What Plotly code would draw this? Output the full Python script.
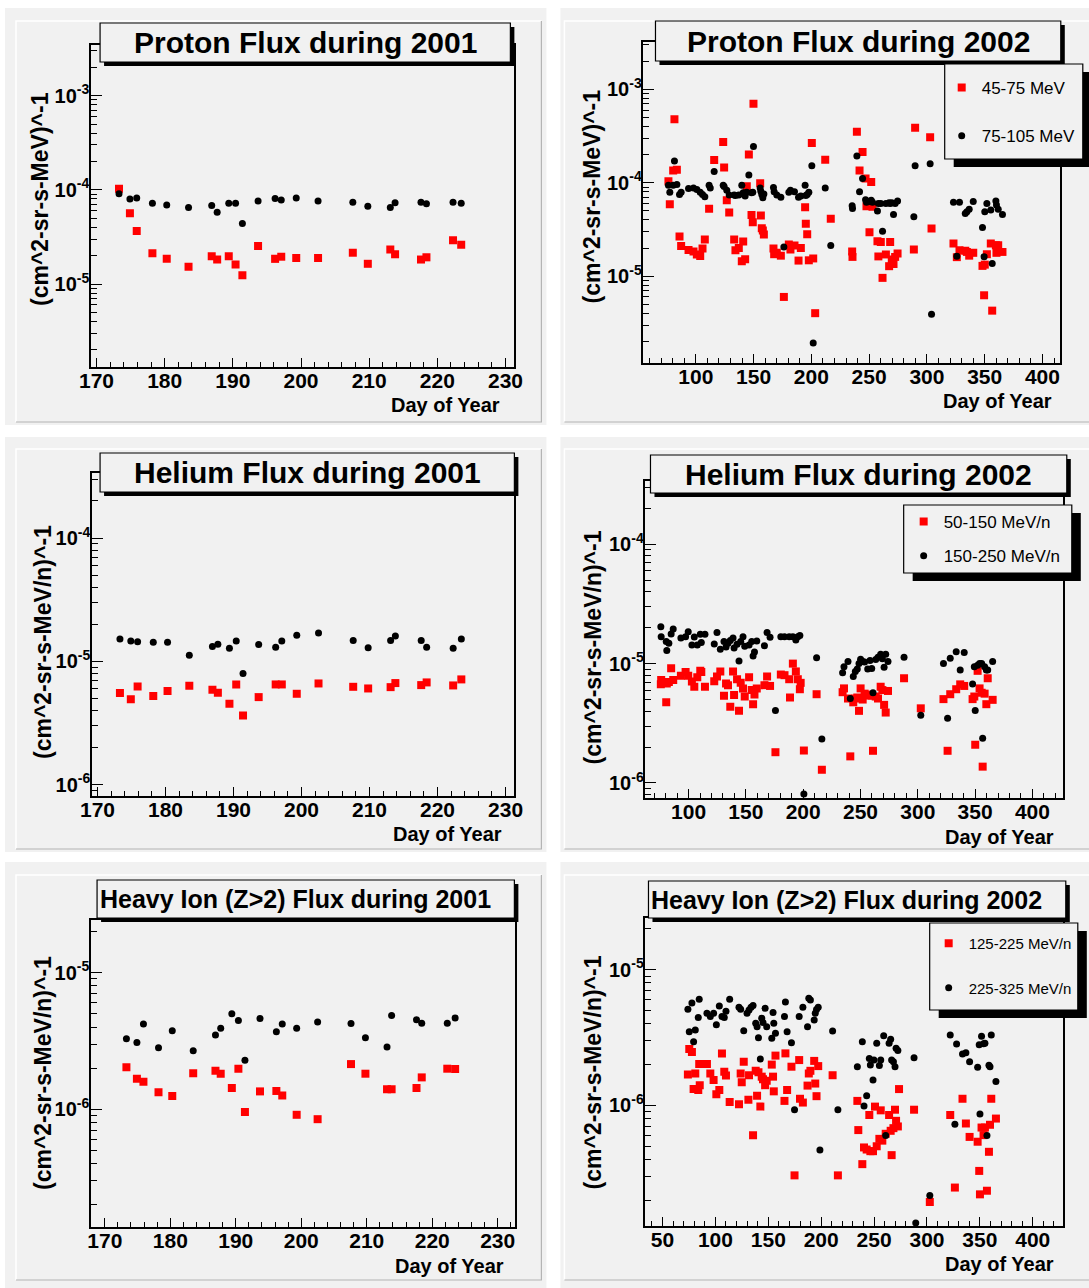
import plotly.graph_objects as go

W, H = 1089, 1288

# ---------------- DATA ----------------
DAYS_2001 = [173.3, 174.9, 175.9, 178.2, 180.3, 183.5, 186.9, 187.7, 189.4, 190.4, 191.4, 193.7,
             196.2, 197.1, 199.3, 202.5, 207.6, 209.8, 213.1, 213.8, 217.6, 218.4, 222.3, 223.5]

PROTON_LOW_2001 = [1.03e-4, 5.65e-5, 3.66e-5, 2.12e-5, 1.85e-5, 1.53e-5, 1.97e-5, 1.82e-5, 1.97e-5, 1.61e-5,
                   1.24e-5, 2.54e-5, 1.85e-5, 1.95e-5, 1.89e-5, 1.89e-5, 2.15e-5, 1.64e-5, 2.32e-5, 2.07e-5,
                   1.82e-5, 1.92e-5, 2.92e-5, 2.62e-5]
PROTON_HIGH_2001 = [9.1e-5, 8.0e-5, 8.2e-5, 7.2e-5, 6.9e-5, 6.5e-5, 6.8e-5, 5.8e-5, 7.2e-5, 7.2e-5,
                    4.4e-5, 7.6e-5, 8.1e-5, 7.8e-5, 8.2e-5, 7.6e-5, 7.4e-5, 6.7e-5, 6.5e-5, 7.3e-5,
                    7.4e-5, 7.1e-5, 7.4e-5, 7.2e-5]

HELIUM_LOW_2001 = [5.53e-6, 4.94e-6, 6.26e-6, 5.23e-6, 5.74e-6, 6.34e-6, 5.89e-6, 5.56e-6, 4.53e-6, 6.50e-6,
                   3.64e-6, 5.13e-6, 6.50e-6, 6.50e-6, 5.46e-6, 6.62e-6, 6.22e-6, 6.03e-6, 6.18e-6, 6.67e-6,
                   6.42e-6, 6.75e-6, 6.38e-6, 7.14e-6]
HELIUM_HIGH_2001 = [1.52e-5, 1.46e-5, 1.44e-5, 1.43e-5, 1.43e-5, 1.12e-5, 1.32e-5, 1.38e-5, 1.28e-5, 1.46e-5,
                    7.98e-6, 1.37e-5, 1.30e-5, 1.46e-5, 1.63e-5, 1.70e-5, 1.48e-5, 1.29e-5, 1.48e-5, 1.61e-5,
                    1.48e-5, 1.30e-5, 1.28e-5, 1.52e-5]

HEAVY_LOW_2001 = [2.03e-6, 1.67e-6, 1.59e-6, 1.33e-6, 1.25e-6, 1.83e-6, 1.91e-6, 1.82e-6, 1.43e-6, 1.98e-6,
                  9.55e-7, 1.35e-6, 1.36e-6, 1.26e-6, 9.1e-7, 8.45e-7, 2.14e-6, 1.82e-6, 1.40e-6, 1.40e-6,
                  1.43e-6, 1.71e-6, 1.98e-6, 1.97e-6]
HEAVY_HIGH_2001 = [3.28e-6, 3.08e-6, 4.20e-6, 2.82e-6, 3.76e-6, 2.68e-6, 3.49e-6, 3.91e-6, 5.00e-6, 4.47e-6,
                   2.28e-6, 4.61e-6, 3.69e-6, 4.20e-6, 3.91e-6, 4.35e-6, 4.25e-6, 3.34e-6, 2.86e-6, 4.86e-6,
                   4.52e-6, 4.27e-6, 4.27e-6, 4.65e-6]

PROTON_DAYS_2002 = [76.3, 77.5, 80.4, 81.5, 83.6, 85.9, 87.3, 93.7, 98.0, 100.9, 103.8, 105.8, 107.8, 111.5,
                    112.5, 115.9, 123.7, 124.5, 126.8, 128.9, 133.2, 134.3, 137.2, 139.8, 141.0, 142.7, 144.1,
                    145.9, 148.2, 149.3, 149.9, 155.7, 156.3, 157.1, 158.0, 158.9, 167.2, 167.8, 170.1, 173.6,
                    176.2, 180.5, 181.9, 185.4, 188.9, 190.9, 194.6, 195.2, 196.4, 197.8, 200.4, 201.6, 203.3,
                    212.0, 216.8, 235.3, 235.6, 239.4, 241.7, 244.3, 246.9, 247.7, 250.3, 251.8, 252.9, 257.2,
                    258.0, 260.1, 261.6, 264.5, 267.3, 268.2, 269.6, 271.1, 272.5, 274.6, 288.7, 289.8, 302.8,
                    304.0, 323.0, 325.9, 328.2, 333.2, 334.6, 336.6, 340.1, 348.1, 349.5, 350.1, 351.9, 355.3,
                    356.5, 359.7, 360.2, 361.7, 365.4]
PROTON_LOW_2002 = [1.04e-4, 5.9e-5, 1.35e-4, 4.8e-4, 1.38e-4, 2.66e-5, 2.11e-5, 1.91e-5, 1.84e-5, 1.71e-5,
                   1.65e-5, 1.98e-5, 2.47e-5, 5.26e-5, None, 1.75e-4, 2.73e-4, 1.46e-4, 6.52e-5, 4.8e-5,
                   2.47e-5, 1.9e-5, 2.01e-5, 1.45e-5, 2.35e-5, 1.52e-5, 9.2e-5, 2.01e-4, 4.51e-5, 3.79e-5,
                   7.0e-4, 9.9e-5, 4.47e-5, 3.27e-5, 3.08e-5, 2.79e-5, 1.98e-5, 1.72e-5, 1.78e-5, 1.66e-5,
                   6.0e-6, 2.18e-5, 1.93e-5, 2.13e-5, 1.47e-5, 2.01e-5, 5.48e-5, 3.64e-5, 2.82e-5, 1.48e-5,
                   2.66e-4, 1.55e-5, 4.02e-6, 1.76e-4, 4.11e-5, 1.84e-5, 1.61e-5, 3.51e-4, 1.35e-4, 2.13e-4,
                   1.11e-4, 5.62e-5, 2.96e-5, 1.02e-4, 5.53e-5, 2.37e-5, 1.63e-5, 2.33e-5, 9.6e-6, 1.71e-5,
                   1.28e-5, 2.33e-5, 1.51e-5, 1.35e-5, 1.61e-5, 1.75e-5, 1.93e-5, 3.88e-4, 3.08e-4, 3.24e-5,
                   2.24e-5, 1.6e-5, 1.9e-5, 1.87e-5, 1.82e-5, 1.66e-5, 1.78e-5, 1.29e-5, 6.25e-6, 1.33e-5,
                   1.72e-5, 2.24e-5, 4.28e-6, 2.15e-5, 1.78e-5, 2.15e-5, 1.82e-5]
PROTON_HIGH_2002 = [9.4e-5, 7.9e-5, 9.4e-5, 1.71e-4, 9.6e-5, 7.5e-5, 7.9e-5, 8.7e-5, 8.8e-5, 8.5e-5,
                    7.9e-5, 7.5e-5, 7.1e-5, 9.4e-5, 8.8e-5, 1.32e-4, 9.4e-5, 9.1e-5, 8.3e-5, 7.4e-5,
                    7.4e-5, 7.3e-5, 7.4e-5, 9.4e-5, 7.8e-5, 7.2e-5, 7.9e-5, 1.21e-4, 7.8e-5, 7.9e-5,
                    2.45e-4, 8.8e-5, 8.1e-5, 7.5e-5, 6.9e-5, 7.6e-5, 8.9e-5, 8.0e-5, 7.4e-5, 7.0e-5,
                    2.06e-5, 7.9e-5, 8.3e-5, 8.0e-5, 7.0e-5, 7.2e-5, 9.4e-5, 7.3e-5, 7.5e-5, 7.9e-5,
                    1.52e-4, 1.93e-6, None, 8.8e-5, 2.13e-5, 5.68e-5, 5.3e-5, 1.94e-4, 8.0e-5, 1.11e-4,
                    6.6e-5, 6.2e-5, 6.3e-5, 6.5e-5, 6.2e-5, 5.0e-5, 6.0e-5, 6.0e-5, 3.03e-5, 6.0e-5,
                    6.1e-5, 6.0e-5, 6.1e-5, 4.58e-5, 6.0e-5, 6.4e-5, 4.33e-5, 1.52e-4, 1.6e-4, 3.92e-6,
                    6.2e-5, 1.64e-5, 6.2e-5, 4.7e-5, 4.9e-5, 5.2e-5, 6.3e-5, 3.32e-5, 1.62e-5, 4.9e-5,
                    6.0e-5, 5.1e-5, 1.37e-5, 6.4e-5, 5.8e-5, 5.2e-5, 4.58e-5]

HELIUM_DAYS_2002 = [75.8, 76.1, 80.5, 81.0, 82.8, 84.8, 86.6, 93.3, 97.4, 99.7, 102.9, 105.0, 107.6, 110.2,
                    111.1, 114.3, 122.4, 124.8, 127.7, 130.9, 132.7, 134.4, 136.4, 138.8, 139.7, 142.3, 144.0,
                    145.5, 147.5, 149.0, 152.8, 155.1, 156.3, 157.5, 159.5, 166.2, 168.5, 171.1, 175.8, 180.5,
                    183.7, 187.8, 188.5, 191.0, 193.6, 195.3, 197.1, 197.8, 200.6, 211.7, 216.3, 234.4, 235.6,
                    239.1, 241.1, 243.7, 245.5, 247.2, 248.7, 250.1, 251.9, 253.6, 256.3, 258.3, 259.8, 260.9,
                    263.3, 265.3, 267.6, 269.1, 270.6, 272.0, 274.0, 288.0, 302.6, 322.4, 326.0, 328.3, 333.5,
                    337.0, 340.5, 347.8, 349.3, 350.1, 352.2, 353.9, 355.7, 356.6, 358.3, 359.8, 361.0, 365.3]
HELIUM_LOW_2002 = [6.71e-6, 7.3e-6, 4.74e-6, 6.8e-6, 7.0e-6, 9.14e-6, 7.3e-6, 7.9e-6, 8.5e-6, 7.9e-6,
                   7.07e-6, 6.4e-6, 7.7e-6, 8.7e-6, 8.5e-6, 6.4e-6, 7.1e-6, 7.8e-6, 8.6e-6, 5.37e-6,
                   6.8e-6, 6.6e-6, 4.36e-6, 8.6e-6, 5.45e-6, 7.4e-6, 4.02e-6, 6.9e-6, 6.2e-6, 5.3e-6,
                   7.7e-6, 6.0e-6, 4.57e-6, 5.5e-6, 6.2e-6, 6.6e-6, 7.8e-6, 6.5e-6, 1.81e-6, 8.1e-6,
                   8.0e-6, 7.4e-6, 5.2e-6, 1.0e-5, 8.6e-6, 7.4e-6, 6.1e-6, 6.9e-6, 1.87e-6, 5.54e-6,
                   1.29e-6, 5.76e-6, 6.2e-6, 5.1e-6, 1.67e-6, 4.74e-6, 5.1e-6, 5.2e-6, 4.02e-6, 6.2e-6,
                   5.0e-6, 5.6e-6, 5.5e-6, 5.4e-6, 5.4e-6, 1.86e-6, 5.3e-6, 5.1e-6, 6.4e-6, 6.0e-6,
                   4.51e-6, 3.89e-6, 5.9e-6, 7.54e-6, 4.22e-6, 5.04e-6, 1.86e-6, 5.54e-6, 6.1e-6, 6.7e-6,
                   6.5e-6, 5.04e-6, 5.3e-6, 2.09e-6, 8.7e-6, 6.2e-6, 5.7e-6, 1.37e-6, 5.6e-6, 4.57e-6,
                   7.54e-6, 4.97e-6]
HELIUM_HIGH_2002 = [2.04e-5, 1.68e-5, 1.53e-5, 1.29e-5, 1.48e-5, 1.77e-5, 1.95e-5, 1.64e-5, 1.68e-5, 1.85e-5,
                    1.43e-5, 1.67e-5, 1.43e-5, 1.76e-5, 1.5e-5, 1.76e-5, 1.46e-5, 1.82e-5, 1.32e-5, 1.53e-5,
                    1.38e-5, 1.48e-5, 1.56e-5, 1.64e-5, 1.35e-5, 1.45e-5, 1.05e-5, 1.53e-5, 1.68e-5, 1.4e-5,
                    1.43e-5, 1.53e-5, 1.16e-5, 1.25e-5, 1.55e-5, 1.41e-5, 1.82e-5, 1.66e-5, 4.05e-6, 1.68e-5,
                    1.68e-5, 1.68e-5, None, 1.68e-5, 1.58e-5, 1.68e-5, 1.72e-5, None, 8.1e-7, 1.12e-5,
                    2.34e-6, 8.4e-6, 9.4e-6, 1.04e-5, 5.1e-6, 7.8e-6, 8.6e-6, 9.0e-6, 1.0e-5, 1.09e-5,
                    1.04e-5, 1.03e-5, 9.0e-6, 1.06e-5, 9.1e-6, 5.7e-6, 1.08e-5, 1.13e-5, 1.2e-5, 1.1e-5,
                    9.3e-6, 1.2e-5, 1.04e-5, 1.13e-5, 3.7e-6, 1.0e-5, 3.49e-6, 1.11e-5, 1.26e-5, 8.85e-6,
                    1.24e-5, 6.76e-6, 9.4e-6, 4.05e-6, 9.7e-6, 1.0e-5, 1.0e-5, 2.37e-6, 9.4e-6, 8.85e-6,
                    8.85e-6, 1.04e-5]

HEAVY_DAYS_2002 = [74.0, 75.3, 77.8, 79.4, 81.0, 83.8, 84.7, 85.2, 92.0, 95.2, 98.3, 100.9, 103.7, 106.2,
                   108.4, 110.0, 113.5, 122.3, 123.9, 124.9, 126.8, 129.9, 131.2, 131.8, 133.7, 135.6, 138.1,
                   139.4, 140.7, 142.5, 143.8, 145.0, 147.0, 148.5, 153.3, 154.5, 155.2, 156.8, 165.3, 166.2,
                   167.8, 171.9, 174.8, 179.2, 180.0, 182.7, 187.1, 188.3, 189.8, 193.4, 194.4, 195.6, 197.2,
                   198.8, 210.8, 215.8, 234.2, 235.1, 238.9, 240.5, 243.0, 245.5, 246.5, 249.0, 249.9, 250.9,
                   252.5, 255.0, 256.3, 257.8, 259.1, 261.0, 264.2, 265.7, 266.6, 268.3, 269.8, 270.8, 272.5,
                   273.6, 287.8, 289.4, 302.7, 322.0, 326.4, 328.0, 333.6, 336.8, 340.3, 347.9, 349.4, 350.1,
                   351.6, 353.5, 354.8, 356.7, 358.6, 359.6, 360.8, 365.2]
HEAVY_LOW_2002 = [1.69e-6, 2.61e-6, 2.48e-6, 1.32e-6, 1.72e-6, 1.3e-6, 2.02e-6, 1.41e-6, 2.02e-6, 1.72e-6,
                  1.54e-6, 1.21e-6, 1.3e-6, 2.42e-6, 1.77e-6, 1.66e-6, 1.06e-6, 1.02e-6, 1.72e-6, 1.48e-6,
                  2.1e-6, None, 1.1e-6, 1.67e-6, None, 6.04e-7, 1.8e-6, 1.18e-6, 1.76e-6, 9.8e-7,
                  1.63e-6, 1.56e-6, 1.41e-6, 1.52e-6, 2.0e-6, 1.63e-6, 1.27e-6, 2.33e-6, 1.08e-6, 2.42e-6,
                  1.3e-6, 1.93e-6, 3.05e-7, 2.16e-6, 1.12e-6, 1.05e-6, 1.4e-6, 1.72e-6, 1.8e-6, 2.13e-6,
                  1.45e-6, 1.17e-6, 1.95e-6, None, 1.67e-6, 3.05e-7, 1.08e-6, 6.58e-7, 3.69e-7, 4.9e-7,
                  4.73e-7, 8.5e-7, 4.6e-7, 4.6e-7, None, 9.8e-7, 5.0e-7, 5.67e-7, 9.2e-7, 5.5e-7,
                  None, 6.18e-7, 8.5e-7, 6.5e-7, 4.3e-7, 6.8e-7, 9.3e-7, 7.7e-7, 7.0e-7, 1.32e-6,
                  9.3e-7, None, 1.94e-7, 8.5e-7, 2.48e-7, None, 1.12e-6, 7.36e-7, 5.86e-7, 5.4e-7,
                  3.29e-7, 2.21e-7, 6.87e-7, 6.04e-7, 6.87e-7, 2.35e-7, 4.55e-7, 7.2e-7, 1.12e-6, 8.0e-7]
HEAVY_HIGH_2002 = [5.12e-6, 3.5e-6, 5.68e-6, 2.95e-6, 3.6e-6, 4.45e-6, 6.07e-6, None, 4.79e-6, 4.52e-6,
                   4.79e-6, 3.93e-6, 5.42e-6, 4.52e-6, 4.45e-6, 4.95e-6, 6.07e-6, 5.3e-6, 5.12e-6, None,
                   3.56e-6, 4.79e-6, None, 5.06e-6, 5.3e-6, 5.45e-6, 4.04e-6, 3.8e-6, 3.16e-6, 2.2e-6,
                   4.4e-6, 4.08e-6, 5.2e-6, 3.8e-6, 3.13e-6, 4.84e-6, 4.04e-6, 3.4e-6, 4.52e-6, 5.8e-6,
                   3.5e-6, 2.9e-6, 9.3e-7, 4.52e-6, None, 5.3e-6, 3.8e-6, 6.18e-6, 6.0e-6, 4.27e-6,
                   4.79e-6, 5.1e-6, 5.3e-6, 4.7e-7, 3.54e-6, 9.3e-7, 1.93e-6, None, 2.95e-6, 9.9e-7,
                   1.18e-6, 2.22e-6, 1.99e-6, 1.54e-6, 2.16e-6, None, 2.88e-6, 1.97e-6, 2.16e-6, None,
                   3.27e-6, 6.0e-7, 2.87e-6, 3.08e-6, 2.16e-6, 2.1e-6, 1.93e-6, 2.64e-6, 2.54e-6, None,
                   2.25e-6, 1.36e-7, 2.17e-7, 3.31e-6, 7.28e-7, 2.84e-6, 2.39e-6, 2.45e-6, 2.1e-6, 1.91e-6,
                   2.8e-6, 8.63e-7, 3.24e-6, 2.85e-6, 2.87e-6, 6.0e-7, 1.98e-6, 1.93e-6, 3.31e-6, 1.5e-6]

PROTON_NAMES = ["45-75 MeV", "75-105 MeV"]
HELIUM_NAMES = ["50-150 MeV/n", "150-250 MeV/n"]
HEAVY_NAMES = ["125-225 MeV/n", "225-325 MeV/n"]

TITLES = ["Proton Flux during 2001", "Proton Flux during 2002",
          "Helium Flux during 2001", "Helium Flux during 2002",
          "Heavy Ion (Z>2) Flux during 2001", "Heavy Ion (Z>2) Flux during 2002"]
YTITLES = ["(cm^2-sr-s-MeV)^-1", "(cm^2-sr-s-MeV)^-1",
           "(cm^2-sr-s-MeV/n)^-1", "(cm^2-sr-s-MeV/n)^-1",
           "(cm^2-sr-s-MeV/n)^-1", "(cm^2-sr-s-MeV/n)^-1"]
XTITLE = "Day of Year"

# ---------------- LAYOUT HELPERS ----------------
FONT = "Liberation Sans, Arial, Helvetica, sans-serif"
BG = "#f1f1f1"
# horizontal calibration of the photographed page (target pixel -> paper fraction)
X_OFF, X_SPAN = 12.0, 1067.2


def fx(px):
    return (px - X_OFF) / X_SPAN


def fy(py):
    return 1 - py / H


panels = [
    dict(days=DAYS_2001, low=PROTON_LOW_2001, high=PROTON_HIGH_2001, names=PROTON_NAMES,
         frame=(91, 45, 514, 367), xr=[169.2, 231.3], yr=[-5.881, -2.462],
         dtick=10, tick0=170, minor=2, decades=[-5, -4, -3],
         tbox=(100, 23, 510, 62), tsize=30, talign="center",
         ytpos=(40, 199), xtpos=(502, 405), legend=None),
    dict(days=PROTON_DAYS_2002, low=PROTON_LOW_2002, high=PROTON_HIGH_2002, names=PROTON_NAMES,
         frame=(643, 42, 1059, 363), xr=[54.7, 415], yr=[-5.929, -2.493],
         dtick=50, tick0=0, minor=10, decades=[-5, -4, -3],
         tbox=(655, 21, 1060, 61), tsize=30, talign="center",
         ytpos=(592, 196), xtpos=(1053, 401),
         legend=dict(key="legend", box=(944, 64, 1082, 159), mx=961, ytop=70, size=17, gap=23)),
    dict(days=DAYS_2001, low=HELIUM_LOW_2001, high=HELIUM_HIGH_2001, names=HELIUM_NAMES,
         frame=(92, 473, 514, 796), xr=[169.2, 231.3], yr=[-6.092, -3.472],
         dtick=10, tick0=170, minor=2, decades=[-6, -5, -4],
         tbox=(100, 453, 514, 492), tsize=30, talign="center",
         ytpos=(43, 642), xtpos=(504, 834), legend=None),
    dict(days=HELIUM_DAYS_2002, low=HELIUM_LOW_2002, high=HELIUM_HIGH_2002, names=HELIUM_NAMES,
         frame=(645, 481, 1062, 798), xr=[62.4, 426.5], yr=[-6.126, -3.47],
         dtick=50, tick0=0, minor=10, decades=[-6, -5, -4],
         tbox=(650, 455, 1066, 493), tsize=30, talign="center",
         ytpos=(593, 647), xtpos=(1055, 837),
         legend=dict(key="legend2", box=(903, 505, 1071, 573), mx=923, ytop=504, size=17, gap=9)),
    dict(days=DAYS_2001, low=HEAVY_LOW_2001, high=HEAVY_HIGH_2001, names=HEAVY_NAMES,
         frame=(91, 920, 515, 1227), xr=[167.9, 232.7], yr=[-6.863, -4.614],
         dtick=10, tick0=170, minor=2, decades=[-6, -5],
         tbox=(97, 880, 514, 918), tsize=25, talign="left",
         ytpos=(43, 1073), xtpos=(506, 1266), legend=None),
    dict(days=HEAVY_DAYS_2002, low=HEAVY_LOW_2002, high=HEAVY_HIGH_2002, names=HEAVY_NAMES,
         frame=(645, 918, 1062, 1226), xr=[33.9, 428.4], yr=[-6.889, -4.618],
         dtick=50, tick0=0, minor=10, decades=[-6, -5],
         tbox=(648, 881, 1065, 918), tsize=25, talign="left",
         ytpos=(593, 1072), xtpos=(1055, 1264),
         legend=dict(key="legend3", box=(929, 923, 1077, 1010), mx=948, ytop=927, size=15, gap=22)),
]

fig = go.Figure()
shapes = []
annotations = []
layout = dict(width=W, height=H, autosize=False,
              margin=dict(l=0, r=0, t=0, b=0, pad=0),
              paper_bgcolor="white", plot_bgcolor=BG,
              font=dict(family=FONT, color="black"),
              showlegend=True)

# pads (light grey with bevel)
cols = [(5, 546, 16, 541), (560, 1095, 564, 1095)]
rows = [(8, 425, 21, 422), (437, 852, 449, 849), (862, 1295, 875, 1280)]
for (ox0, ox1, ix0, ix1) in cols:
    for (oy0, oy1, iy0, iy1) in rows:
        shapes.append(dict(type="rect", xref="paper", yref="paper", layer="below",
                           x0=fx(ox0), x1=fx(ox1), y0=fy(oy1), y1=fy(oy0),
                           fillcolor=BG, line=dict(width=0)))
        shapes.append(dict(type="path", xref="paper", yref="paper", layer="below",
                           path=f"M {fx(ix0)} {fy(iy1)} L {fx(ix0)} {fy(iy0)} L {fx(ix1)} {fy(iy0)}",
                           line=dict(color="white", width=1.5)))
        shapes.append(dict(type="path", xref="paper", yref="paper", layer="below",
                           path=f"M {fx(ix0)} {fy(iy1)} L {fx(ix1)} {fy(iy1)} L {fx(ix1)} {fy(iy0)}",
                           line=dict(color="#b4b4b4", width=1.2)))

for i, p in enumerate(panels):
    n = i + 1
    xa = "xaxis" if n == 1 else f"xaxis{n}"
    ya = "yaxis" if n == 1 else f"yaxis{n}"
    xr_ = "x" if n == 1 else f"x{n}"
    yr_ = "y" if n == 1 else f"y{n}"
    x0, y0, x1, y1 = p["frame"]

    leg = p["legend"]
    show = leg is not None
    legkey = leg["key"] if show else "legend"

    fig.add_trace(go.Scatter(x=p["days"], y=p["low"], mode="markers", name=p["names"][0],
                             xaxis=xr_, yaxis=yr_, showlegend=show, legend=legkey,
                             legendgroup=f"g{n}a",
                             marker=dict(symbol="square", size=8, color="#ff0000", line=dict(width=0)),
                             cliponaxis=True))
    fig.add_trace(go.Scatter(x=p["days"], y=p["high"], mode="markers", name=p["names"][1],
                             xaxis=xr_, yaxis=yr_, showlegend=show, legend=legkey,
                             legendgroup=f"g{n}b",
                             marker=dict(symbol="circle", size=7, color="#000000", line=dict(width=0)),
                             cliponaxis=True))

    decs = p["decades"]
    ymaj = [10.0 ** d for d in decs]
    ytxt = [f"10<sup>{d}</sup>" for d in decs]
    yminor = []
    for d in range(int(p["yr"][0]) - 2, int(p["yr"][1]) + 2):
        for m in range(2, 10):
            yminor.append(m * 10.0 ** d)

    layout[xa] = dict(domain=[fx(x0), fx(x1)], range=p["xr"], anchor=yr_,
                      showline=True, linecolor="black", linewidth=1.6, mirror=True,
                      showgrid=False, zeroline=False,
                      tickmode="linear", tick0=p["tick0"], dtick=p["dtick"],
                      ticks="inside", ticklen=9, tickwidth=1.2, tickcolor="black",
                      ticklabelstandoff=-6,
                      tickfont=dict(family=FONT, size=21, color="black", weight="bold"),
                      minor=dict(ticks="inside", ticklen=5, tickwidth=1.2, tickcolor="black",
                                 dtick=p["minor"], tick0=p["tick0"], showgrid=False))
    layout[ya] = dict(domain=[fy(y1), fy(y0)], type="log", range=p["yr"], anchor=xr_,
                      showline=True, linecolor="black", linewidth=1.6, mirror=True,
                      showgrid=False, zeroline=False,
                      tickmode="array", tickvals=ymaj, ticktext=ytxt,
                      ticks="inside", ticklen=11, tickwidth=1.2, tickcolor="black",
                      ticklabelstandoff=-4,
                      tickfont=dict(family=FONT, size=20, color="black", weight="bold"),
                      minor=dict(ticks="inside", ticklen=6, tickwidth=1.2, tickcolor="black",
                                 tickmode="array", tickvals=yminor, showgrid=False))

    # title box with shadow
    bx0, by0, bx1, by1 = p["tbox"]
    shapes.append(dict(type="rect", xref="paper", yref="paper", layer="above",
                       x0=fx(bx0 + 4), x1=fx(bx1 + 4), y0=fy(by1 + 4), y1=fy(by0 + 4),
                       fillcolor="black", line=dict(width=0)))
    shapes.append(dict(type="rect", xref="paper", yref="paper", layer="above",
                       x0=fx(bx0), x1=fx(bx1), y0=fy(by1), y1=fy(by0),
                       fillcolor=BG, line=dict(color="black", width=1.2)))
    if p["talign"] == "center":
        annotations.append(dict(xref="paper", yref="paper", x=fx((bx0 + bx1) / 2), y=fy((by0 + by1) / 2),
                                xanchor="center", yanchor="middle", showarrow=False,
                                text=f"<b>{TITLES[i]}</b>",
                                font=dict(family=FONT, size=p["tsize"], color="black")))
    else:
        annotations.append(dict(xref="paper", yref="paper", x=fx(bx0 + 1), y=fy((by0 + by1) / 2),
                                xanchor="left", yanchor="middle", showarrow=False,
                                text=f"<b>{TITLES[i]}</b>",
                                font=dict(family=FONT, size=p["tsize"], color="black")))

    tx, ty = p["ytpos"]
    annotations.append(dict(xref="paper", yref="paper", x=fx(tx), y=fy(ty),
                            xanchor="center", yanchor="middle", showarrow=False, textangle=-90,
                            text=f"<b>{YTITLES[i]}</b>",
                            font=dict(family=FONT, size=23, color="black")))
    ax_, ay_ = p["xtpos"]
    annotations.append(dict(xref="paper", yref="paper", x=fx(ax_), y=fy(ay_),
                            xanchor="right", yanchor="middle", showarrow=False,
                            text=f"<b>{XTITLE}</b>",
                            font=dict(family=FONT, size=20, color="black")))

    if show:
        lx0, ly0, lx1, ly1 = leg["box"]
        shapes.append(dict(type="rect", xref="paper", yref="paper", layer="above",
                           x0=fx(lx0 + 9), x1=fx(lx1 + 9), y0=fy(ly1 + 8), y1=fy(ly0 + 8),
                           fillcolor="black", line=dict(width=0)))
        shapes.append(dict(type="rect", xref="paper", yref="paper", layer="above",
                           x0=fx(lx0), x1=fx(lx1), y0=fy(ly1), y1=fy(ly0),
                           fillcolor=BG, line=dict(color="black", width=1.2)))
        layout[leg["key"]] = dict(x=fx(leg["mx"] - 20), y=fy(leg["ytop"]), xanchor="left", yanchor="top",
                                  bgcolor="rgba(0,0,0,0)", borderwidth=0,
                                  traceorder="grouped", tracegroupgap=leg["gap"],
                                  font=dict(family=FONT, size=leg["size"], color="black"))

layout["shapes"] = shapes
layout["annotations"] = annotations
fig.update_layout(**layout)

fig.write_html("out.html", config={"displayModeBar": False},
               post_script="document.body.style.margin='0';document.body.style.overflow='hidden';")
